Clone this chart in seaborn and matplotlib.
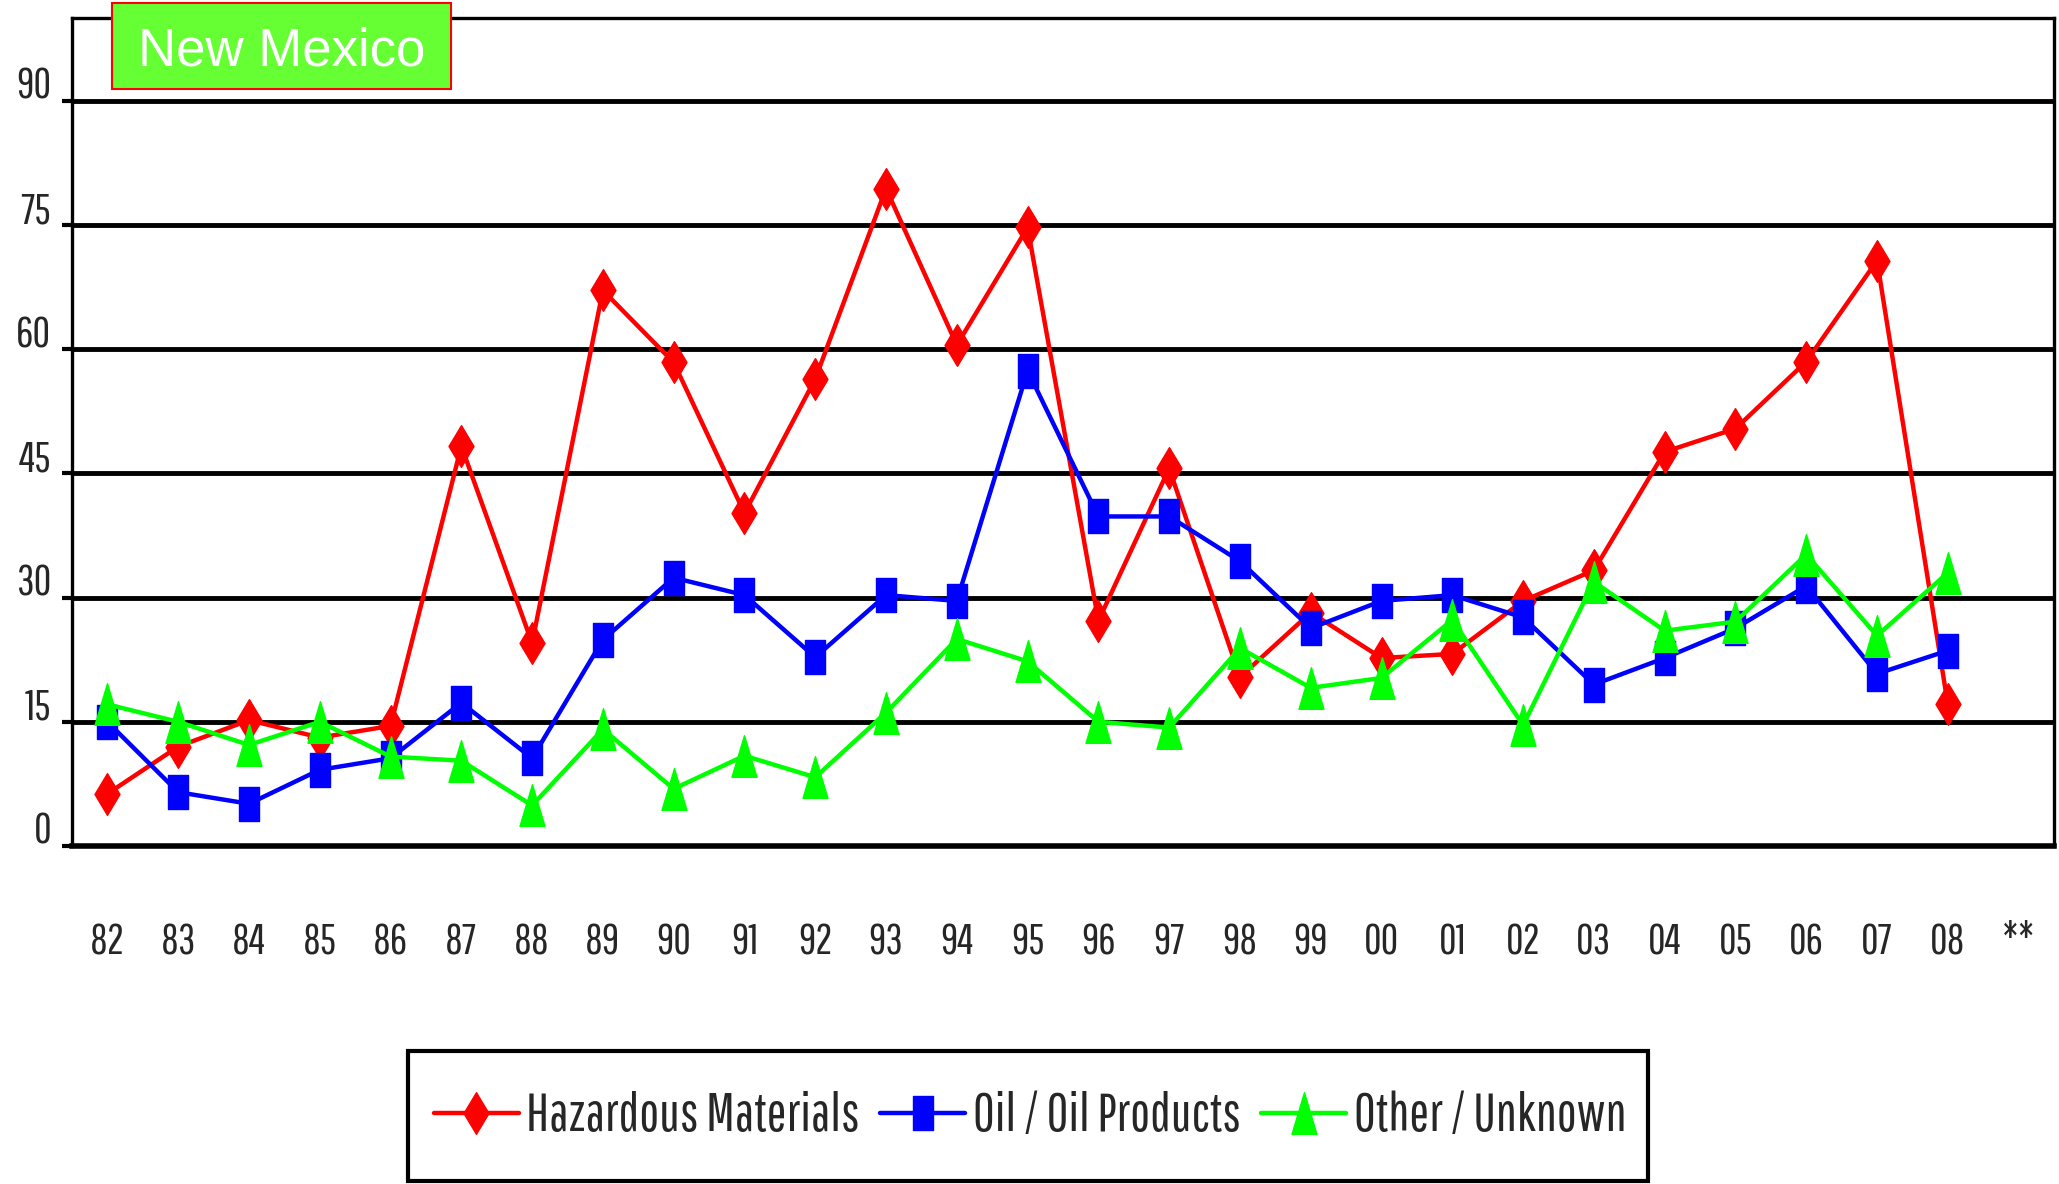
import numpy as np
import pandas as pd
import matplotlib
matplotlib.use("Agg")
import matplotlib.pyplot as plt
import seaborn as sns
from matplotlib.path import Path
from matplotlib.patches import Rectangle
from matplotlib.transforms import ScaledTranslation

# --- DANE ---
years = ['82', '83', '84', '85', '86', '87', '88', '89', '90', '91', '92', '93', '94', '95',
         '96', '97', '98', '99', '00', '01', '02', '03', '04', '05', '06', '07', '08']
tick_labels = years + ['**']

hazardous = [6.3, 12, 15.2, 13.1, 14.5, 48.3, 24.5, 67.1, 58.4, 40.2, 56.4, 79.4, 60.5, 74.7,
             27.2, 45.6, 20.4, 28.2, 22.7, 23.2, 29.6, 33.3, 47.6, 50.4, 58.5, 70.7, 17.1]
oil = [15, 6.5, 5.1, 9.2, 10.6, 17.3, 10.6, 24.9, 32.4, 30.3, 22.8, 30.3, 29.6, 57.4,
       39.8, 39.8, 34.4, 26.3, 29.6, 30.3, 27.6, 19.5, 22.7, 26.3, 31.4, 20.8, 23.6]
other = [17.1, 15, 12.2, 15, 10.8, 10.3, 4.9, 14.1, 6.9, 10.9, 8.3, 16.1, 25, 22.3,
         15, 14.3, 23.9, 19.1, 20.3, 27.3, 14.6, 31.9, 26, 27.1, 35.2, 25.4, 33]

series_names = ['Hazardous Materials', 'Oil / Oil Products', 'Other / Unknown']
y_ticks = [0, 15, 30, 45, 60, 75, 90]

# --- KONFIGURACJA ---
NARROW = ['Pathway Gothic One', 'DejaVu Sans']
W, H = 2059, 1184

sns.set_theme(style="white")
plt.rcParams['font.family'] = NARROW

fig = plt.figure(figsize=(W / 100, H / 100), dpi=100)
renderer = fig.canvas.get_renderer()


def fit_size(text, target_px, base=20):
    """Rozmiar czcionki, przy którym tekst ma zadaną szerokość w pikselach."""
    t = fig.text(0, 0, text, fontsize=base)
    w = t.get_window_extent(renderer).width
    t.remove()
    return base * target_px / w


xt_size = fit_size('82', 35)
yt_size = fit_size('90', 35)
leg_size = fit_size('Hazardous Materials', 332)

# znaczniki wydłużone w pionie, jak w oryginale
diamond = Path([(0, 1), (0.6, 0), (0, -1), (-0.6, 0), (0, 1)], closed=True)
square = Path([(-0.62, -1), (0.62, -1), (0.62, 1), (-0.62, 1), (-0.62, -1)], closed=True)
triangle = Path([(0, 1), (0.6, -1), (-0.6, -1), (0, 1)], closed=True)

styles = {
    'Hazardous Materials': dict(color='#FF0000', marker=diamond, ms=30),
    'Oil / Oil Products': dict(color='#0000FF', marker=square, ms=24),
    'Other / Unknown': dict(color='#00FF00', marker=triangle, ms=30),
}

df = pd.DataFrame({
    'pos': list(range(len(years))) * 3,
    'value': hazardous + oil + other,
    'series': np.repeat(series_names, len(years)),
})

ax = fig.add_axes([72 / W, 1 - 846 / H, (2054 - 72) / W, (846 - 18) / H])

for name in series_names:
    st = styles[name]
    sns.lineplot(data=df[df['series'] == name], x='pos', y='value', ax=ax,
                 color=st['color'], marker=st['marker'], markersize=st['ms'],
                 markeredgecolor=st['color'], markeredgewidth=1, linewidth=3.2,
                 label=name, zorder=3)

ax.set_xlim(-0.5, len(tick_labels) - 0.5)
ax.set_ylim(0, 100)
ax.set_xlabel('')
ax.set_ylabel('')

# siatka pozioma
ax.set_axisbelow(True)
ax.set_yticks(y_ticks)
ax.yaxis.grid(True, color='black', linewidth=3.5)
ax.xaxis.grid(False)

ax.set_xticks(range(len(tick_labels)))
ax.set_xticklabels(tick_labels, fontsize=xt_size)
ax.set_xticks(np.arange(-0.5, len(tick_labels), 1), minor=True)
ax.tick_params(axis='x', which='major', length=0, pad=55)
ax.tick_params(axis='x', which='minor', length=13, width=1.8, color='black', direction='out')
ax.tick_params(axis='y', length=7, width=3, color='black', direction='out', pad=8,
               labelsize=yt_size)
ax.tick_params(bottom=True, left=True)

# etykiety osi Y przesunięte nad linie siatki
offset = ScaledTranslation(0, 0.18, fig.dpi_scale_trans)
for lbl in ax.get_yticklabels():
    lbl.set_transform(lbl.get_transform() + offset)

for side in ['left', 'right', 'top']:
    ax.spines[side].set_color('black')
    ax.spines[side].set_linewidth(2.4)
ax.spines['bottom'].set_color('black')
ax.spines['bottom'].set_linewidth(4)

# legenda na dole (ramka rysowana osobno)
handles, labels = ax.get_legend_handles_labels()
ax.get_legend().remove()
fs_px = leg_size * 100 / 72
leg = fig.legend(handles, labels, loc='center', ncol=3,
                 bbox_to_anchor=(1030 / W, 1 - 1116 / H),
                 fontsize=leg_size, frameon=False,
                 handlelength=85 / fs_px, handletextpad=8 / fs_px, columnspacing=20 / fs_px,
                 borderpad=0, borderaxespad=0)
fig.patches.append(Rectangle((408 / W, 1 - 1181 / H), 1240 / W, 130 / H, transform=fig.transFigure,
                             facecolor='white', edgecolor='black', linewidth=3, zorder=0))

# tytuł w zielonej ramce
fig.patches.append(Rectangle((112 / W, 1 - 89 / H), 339 / W, 86 / H, transform=fig.transFigure,
                             facecolor='#66FF33', edgecolor='red', linewidth=1.5, zorder=5))
fig.text(282 / W, 1 - 65 / H, 'New Mexico', color='white', fontsize=38,
         family=['Liberation Sans', 'DejaVu Sans'], ha='center', va='baseline', zorder=6)

fig.savefig('out.png', dpi=100)
